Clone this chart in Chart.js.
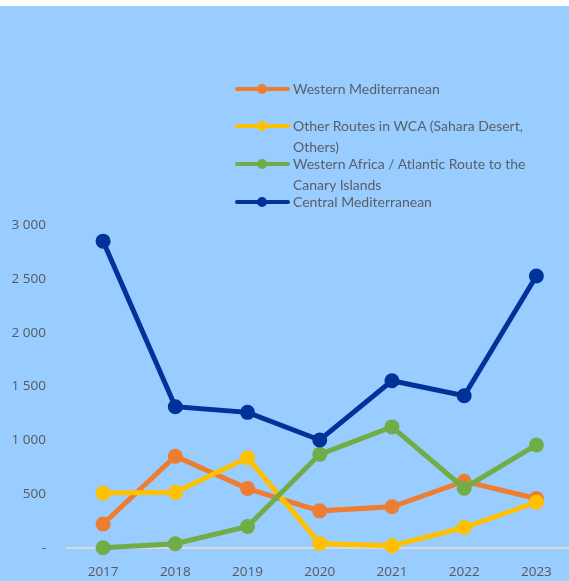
<!DOCTYPE html>
<html>
<head>
<meta charset="utf-8">
<script src="https://cdn.jsdelivr.net/npm/chart.js@4"></script>
<style>
html,body{margin:0;padding:0;overflow:hidden;width:569px;height:581px;background:#99CCFF;}
#strip{position:absolute;left:0;top:0;width:569px;height:6px;background:#ffffff;}
#wrap{position:absolute;left:0;top:0;width:580px;height:581px;}
.leg{position:absolute;left:235px;font-family:Lato,"Open Sans",sans-serif;font-size:14px;line-height:21px;color:#5a5f66;}
.sw{position:absolute;left:0;width:55px;height:4px;border-radius:2px;}
.dot{position:absolute;left:22px;top:-3px;width:10px;height:10px;border-radius:5px;}
.txt{position:absolute;left:58px;top:0;white-space:nowrap;}
</style>
</head>
<body>
<div id="strip"></div>
<div id="wrap"><canvas id="c" width="580" height="581"></canvas></div>
<div id="legend"></div>
<script>
const years = ["2017","2018","2019","2020","2021","2022","2023"];
const seriesNames = ["Western Mediterranean","Other Routes in WCA (Sahara Desert,\nOthers)","Western Africa / Atlantic Route to the\nCanary Islands","Central Mediterranean"];
const westernMed = [223, 852, 552, 345, 383, 620, 460];
const otherRoutes = [510, 517, 838, 42, 20, 190, 425];
const westernAfrica = [2, 40, 200, 870, 1125, 556, 957];
const centralMed = [2850, 1312, 1260, 1003, 1553, 1414, 2526];
const colors = ["#ED7D31","#FFC000","#70AD47","#003399"];
const yTicks = [0, 500, 1000, 1500, 2000, 2500, 3000];

const allData = [westernMed, otherRoutes, westernAfrica, centralMed];
const legendTops = [78, 115, 153, 191];

// HTML legend
const lg = document.getElementById('legend');
seriesNames.forEach((n,i)=>{
  const d = document.createElement('div');
  d.className='leg';
  d.style.top = legendTops[i]+'px';
  d.innerHTML = '<div class="sw" style="top:9px;background:'+colors[i]+'"><div class="dot" style="background:'+colors[i]+'"></div></div><div class="txt">'+n.replace('\n','<br>')+'</div>';
  lg.appendChild(d);
});

function fmt(v){
  if (v === 0) return '-';
  return String(v).replace(/\B(?=(\d{3})+(?!\d))/g,' ');
}

new Chart(document.getElementById('c'), {
  type: 'line',
  data: {
    labels: years,
    datasets: allData.map((d,i)=>({
      label: seriesNames[i],
      data: d,
      borderColor: colors[i],
      backgroundColor: colors[i],
      pointBackgroundColor: colors[i],
      pointBorderColor: colors[i],
      borderWidth: 5,
      pointRadius: 7.5,
      pointBorderWidth: 0,
      tension: 0,
      clip: false,
      order: 4 - i
    }))
  },
  options: {
    responsive: false,
    devicePixelRatio: 1,
    animation: false,
    layout: { padding: { top: 225, right: 3, left: 0, bottom: 0 } },
    plugins: { legend: { display: false }, tooltip: { enabled: false } },
    scales: {
      x: {
        offset: true,
        grid: { display: false, drawTicks: false },
        border: { display: true, color: '#D9D9D9', width: 2 },
        ticks: { color: '#595959', font: { family: '"Open Sans"', size: 13.5 }, padding: 16, maxRotation: 0 },
        afterFit: s => { s.height = 33; }
      },
      y: {
        min: 0, max: 3000,
        afterBuildTicks: s => { s.ticks = yTicks.map(v=>({value:v})); },
        grid: { display: false, drawTicks: false },
        border: { display: false },
        ticks: { color: '#595959', font: { family: '"Open Sans"', size: 13.5 }, padding: 21, callback: v => fmt(v) },
        afterFit: s => { s.width = 67; }
      }
    }
  }
});
</script>
</body>
</html>
